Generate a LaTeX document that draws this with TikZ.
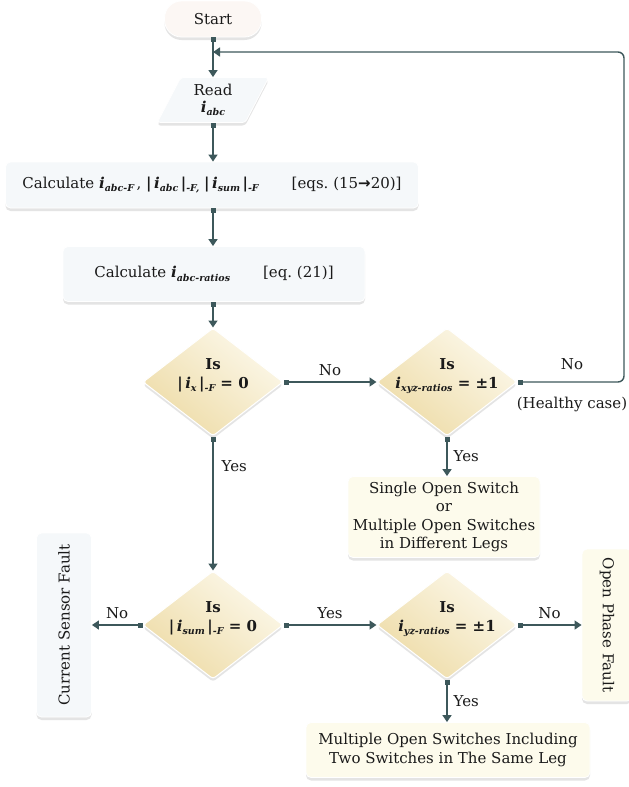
\documentclass[tikz,border=0pt]{standalone}
\usepackage{fontspec}
\setmainfont{DejaVu Serif}
\newfontfamily\symfont{DejaVu Sans}
\usetikzlibrary{shapes.geometric,arrows.meta,shadows}
\definecolor{conn}{HTML}{3D585B}
\definecolor{boxfill}{HTML}{F5F8FA}
\definecolor{creamfill}{HTML}{FDFBEC}
\definecolor{diaDark}{HTML}{EEDCA8}
\definecolor{diaLight}{HTML}{FCF8EA}
\definecolor{startfill}{HTML}{FCF7F4}
\definecolor{txt}{HTML}{1A1A1A}
\newcommand{\subb}[1]{\raisebox{-0.45ex}{\fontsize{9.5}{9.5}\selectfont\bfseries\itshape #1}}
\newcommand{\cur}[2]{\textbf{\textit{#1}}\subb{#2}}
\newcommand{\dtext}[2]{\raisebox{6pt}{\smash{\makebox[0pt]{\begin{tabular}{@{}c@{}}#1\\#2\end{tabular}}}}}
\begin{document}
\begin{tikzpicture}[x=1pt,y=-1pt,
  every node/.style={font=\fontsize{15}{18.5}\selectfont, text=txt},
  shad/.style={drop shadow={shadow xshift=0pt,shadow yshift=-3pt,opacity=0.15,fill=black!70}},
  procbox/.style={draw=white, line width=0.8pt, rounded corners=5pt, fill=boxfill, inner sep=0pt, shad},
  creambox/.style={procbox, fill=creamfill},
  startbox/.style={draw=white, line width=0.8pt, rounded corners=17pt, fill=startfill, inner sep=0pt, shad,
    minimum width=97, minimum height=36},
  readbox/.style={trapezium, trapezium left angle=66, trapezium right angle=114, trapezium stretches=true,
    draw=white, line width=0.8pt, rounded corners=3pt, fill=boxfill, inner sep=0pt, shad,
    minimum width=112, minimum height=45, align=center},
  dia/.style={diamond, draw=white, line width=1pt, rounded corners=3pt, top color=diaLight, bottom color=diaDark,
    shading angle=-40, inner sep=0pt, minimum width=140, minimum height=108, shad},
  conn/.style={draw=conn, line width=1.4pt, {Square[length=5pt,width=5pt]}-{Triangle[length=7pt,width=9pt]}},
  lbl/.style={font=\fontsize{15}{17}\selectfont, inner sep=2pt}
]
\useasboundingbox (0,0) rectangle (629,787);

% nodes
\node[startbox] (start) at (213,19) {Start};
\node[readbox] (read) at (213,100) {Read\\[-2pt]\cur{i}{abc}};
\node[procbox, minimum width=413, minimum height=46] (calc1) at (212,185)
  {Calculate \cur{i}{abc-F}\,, \textbf{|}\,\cur{i}{abc}\,\textbf{|}\subb{-F,} \textbf{|}\,\cur{i}{sum}\,\textbf{|}\subb{-F}\hspace{2.2em}[eqs.\ (15{\symfont\bfseries →}20)]};
\node[procbox, minimum width=302, minimum height=55] (calc2) at (214,274)
  {Calculate \cur{i}{abc-ratios}\hspace{2.2em}[eq.\ (21)]};
\node[dia] (d1) at (213,382) {\dtext{\textbf{Is}}{\bfseries |\,\cur{i}{x}\,|\subb{-F} = 0}};
\node[dia] (d2) at (447,382) {\dtext{\textbf{Is}}{\bfseries \cur{i}{xyz-ratios} = ±1}};
\node[creambox, minimum width=192, minimum height=81, align=center] (sos) at (444,517)
  {Single Open Switch\\or\\Multiple Open Switches\\in Different Legs};
\node[dia] (d3) at (213,625) {\dtext{\textbf{Is}}{\bfseries |\,\cur{i}{sum}\,|\subb{-F} = 0}};
\node[dia] (d4) at (447,625) {\dtext{\textbf{Is}}{\bfseries \cur{i}{yz-ratios} = ±1}};
\node[procbox, rotate=90, minimum width=184, minimum height=55] (csf) at (64,625) {Current Sensor Fault};
\node[creambox, rotate=-90, minimum width=152, minimum height=50] (opf) at (607,625) {Open Phase Fault};
\node[creambox, minimum width=284, minimum height=55, align=center] (mos) at (448,750)
  {Multiple Open Switches Including\\Two Switches in The Same Leg};

\coordinate (fbcorner) at (624,382);
\coordinate (fb) at (213,52);

% connectors
\draw[conn] (start.south) -- (start.south |- read.north);
\draw[conn] (start.south |- read.south) -- (start.south |- calc1.north);
\draw[conn] (start.south |- calc1.south) -- (start.south |- calc2.north);
\draw[conn] (start.south |- calc2.south) -- (d1.north);
\draw[conn] (d1.east) -- (d2.west) node[lbl, midway, above=4pt] (lno1) {No};
\draw[conn, rounded corners=6pt] (d2.east) -- (fbcorner) |- (fb);
\node[lbl] (lno2) at (572,364) {No};
\node[lbl] (lhealthy) at (572,404) {(Healthy case)};
\draw[conn] (d2.south) -- (d2.south |- sos.north) node[lbl, midway, right=4pt] (lyes1) {Yes};
\draw[conn] (d1.south) -- (d3.north) node[lbl, pos=0.22, right=6pt] (lyes2) {Yes};
\draw[conn] (d3.west) -- (d3.west -| csf.south) node[lbl, midway, above=4pt] (lno3) {No};
\draw[conn] (d3.east) -- (d4.west) node[lbl, midway, above=4pt] (lyes3) {Yes};
\draw[conn] (d4.east) -- (d4.east -| opf.south) node[lbl, midway, above=4pt] (lno4) {No};
\draw[conn] (d4.south) -- (d4.south |- mos.north) node[lbl, midway, right=4pt] (lyes4) {Yes};
\end{tikzpicture}
\end{document}
